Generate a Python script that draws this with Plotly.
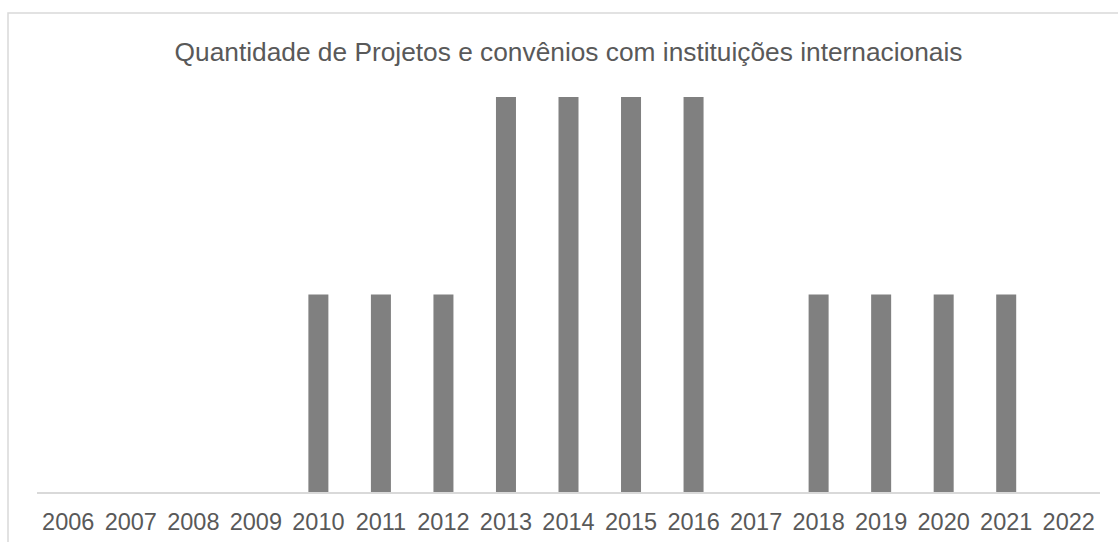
import plotly.graph_objects as go

years = [str(y) for y in range(2006, 2023)]
values = [0, 0, 0, 0, 1, 1, 1, 2, 2, 2, 2, 0, 1, 1, 1, 1, 0]
title_text = "Quantidade de Projetos e convênios com instituições internacionais"

W, H = 1118, 542
ml, mr, mt, mb = 37, 18, 97, 50
pw = W - ml - mr
ph = H - mt - mb

fig = go.Figure(go.Bar(x=years, y=values, marker=dict(color="#808080", line=dict(width=0)),
                       hoverinfo="x+y"))

def px2paper_x(px):
    return (px - ml) / pw

def py2paper_y(py):
    return (H - mb - py) / ph

fig.update_layout(
    width=W, height=H,
    margin=dict(l=ml, r=mr, t=mt, b=mb, autoexpand=False),
    paper_bgcolor="white", plot_bgcolor="white",
    bargap=0.68,
    showlegend=False,
    font=dict(family="Liberation Sans, Arial, sans-serif", color="#595959"),
    title=dict(text=title_text, x=0.5, xanchor="center", xref="paper",
               y=1 - 52 / H, yanchor="middle",
               font=dict(size=26.3, color="#595959")),
    xaxis=dict(type="category", showline=True, linecolor="#d9d9d9", linewidth=1.5,
               automargin=False,
               showgrid=False, zeroline=False, ticks="", tickfont=dict(size=23.5, color="#595959"),
               ticklabelstandoff=8),
    yaxis=dict(range=[0, 2], visible=False, showgrid=False, zeroline=False, automargin=False),
    shapes=[dict(type="rect", xref="paper", yref="paper",
                 x0=px2paper_x(8), x1=px2paper_x(1140),
                 y0=py2paper_y(600), y1=py2paper_y(13),
                 line=dict(color="#d9d9d9", width=1.5), fillcolor="rgba(0,0,0,0)", layer="below")],
)

fig.write_html("out.html", config={"displayModeBar": False},
               post_script="document.body.style.margin='0';document.body.style.overflow='hidden';")
